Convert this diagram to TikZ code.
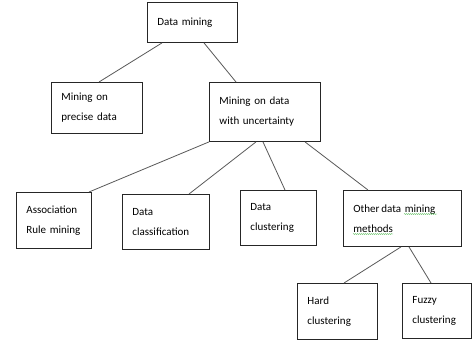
\documentclass[tikz,border=0pt]{standalone}
\usepackage{fontspec}
\setmainfont{Carlito}
\usetikzlibrary{decorations.pathmorphing}
\begin{document}
\begin{tikzpicture}[x=1pt,y=-1pt,
  box/.style={draw=black!85,line width=0.9pt,rectangle,inner xsep=10pt,inner ysep=0pt,
    align=left,font=\fontsize{11}{20}\selectfont,text=black,anchor=north west},
  link/.style={draw=black!65,line width=0.8pt},
  squiggle/.style={draw=green!60!black!70,line width=0.35pt,
    decorate,decoration={snake,amplitude=0.5pt,segment length=2pt}}]
\useasboundingbox (0,0) rectangle (472,341);
\fill[white] (0,0) rectangle (472,341);

% boxes: position is the top-left corner, size via text width and minimum height
\node[box,text width=70pt,minimum height=40pt] (dm) at (147,2) {Data mining};
\node[box,text width=71pt,minimum height=51pt] (pre) at (51,82) {Mining on\\precise data};
\node[box,text width=91pt,minimum height=59pt] (unc) at (209,82) {Mining on data\\with uncertainty};
\node[box,text width=55pt,minimum height=56pt] (arm) at (16,192) {Association\\Rule mining};
\node[box,text width=67pt,minimum height=55pt] (cls) at (122,194) {Data\\classification};
\node[box,text width=56pt,minimum height=55pt] (clu) at (240,190) {Data\\clustering};
\node[box,text width=98pt,minimum height=56pt] (oth) at (343,190) {Other\,data mining\\methods};
\node[box,text width=60pt,minimum height=56pt] (hrd) at (297,283) {Hard\\clustering};
\node[box,text width=49pt,minimum height=55pt] (fzy) at (402,283) {Fuzzy\\clustering};

% spell-check underlines
\path[squiggle] (404,214) -- (437,214);
\path[squiggle] (353,234) -- (393,234);

% connectors
\draw[link] ([xshift=15pt]dm.south west) -- ([xshift=48pt]pre.north west);
\draw[link] ([xshift=57pt]dm.south west) -- ([xshift=27pt]unc.north west);
\draw[link] (unc.south west) -- ([xshift=73pt]arm.north west);
\draw[link] ([xshift=47pt]unc.south west) -- ([xshift=67pt]cls.north west);
\draw[link] ([xshift=54pt]unc.south west) -- ([xshift=45pt]clu.north west);
\draw[link] ([xshift=96pt]unc.south west) -- ([xshift=25pt]oth.north west);
\draw[link] ([xshift=58pt]oth.south west) -- ([xshift=47pt]hrd.north west);
\draw[link] ([xshift=66pt]oth.south west) -- ([xshift=29pt]fzy.north west);
\end{tikzpicture}
\end{document}
